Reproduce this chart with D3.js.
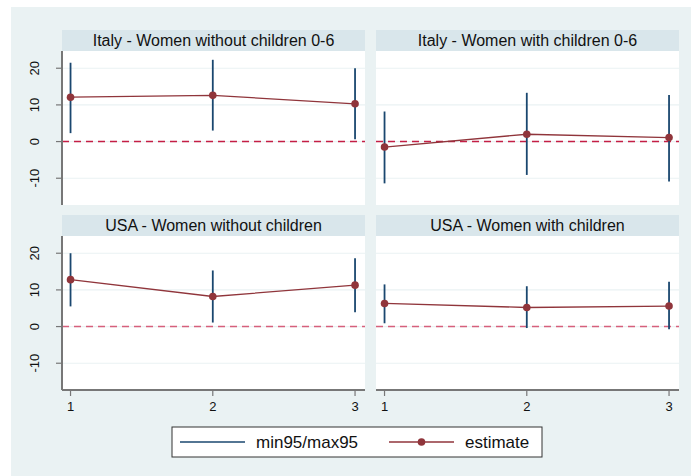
<!DOCTYPE html>
<html>
<head>
<meta charset="utf-8">
<script src="https://cdn.jsdelivr.net/npm/d3@7.9.0/dist/d3.min.js"></script>
<style>
  body { margin: 0; background: #fff; }
  svg { display: block; font-family: "Liberation Sans", Arial, sans-serif; }
</style>
</head>
<body>
<svg width="691" height="476"></svg>
<script>
// values
const panelTitles = [
  'Italy - Women without children 0-6',
  'Italy - Women with children 0-6',
  'USA - Women without children',
  'USA - Women with children'
];
const xValues = [1, 2, 3];
const estimate = [
  [12.1, 12.6, 10.3],
  [-1.5, 2.0, 1.1],
  [12.8, 8.2, 11.3],
  [6.3, 5.2, 5.6]
];
const min95 = [
  [2.3, 3.0, 0.6],
  [-11.4, -9.1, -10.9],
  [5.5, 1.1, 3.9],
  [0.9, -0.4, -0.7]
];
const max95 = [
  [21.5, 22.3, 20.0],
  [8.2, 13.3, 12.7],
  [20.0, 15.3, 18.6],
  [11.5, 11.0, 12.2]
];
const yTicks = [-10, 0, 10, 20];
const xTicks = [1, 2, 3];
const legendLabels = ['min95/max95', 'estimate'];

const svg = d3.select('svg');
const navy = '#1a476f', maroon = '#90353b';

svg.append('rect').attr('x', 11).attr('y', 7).attr('width', 680).attr('height', 469).attr('fill', '#eaf2f3');

const plotW = 303, plotH = 154, stripH = 21;
const colX = [62, 376];
const rowY = [30, 215];
const refColor = ['#c41e45', '#d6607c'];

let x = d3.scaleLinear().domain([0.94, 3.07]).range([0, plotW]);
let y = d3.scaleLinear().domain([-17.3, 24.7]).range([plotH, 0]);

panelTitles.forEach((title, i) => {
  let col = i % 2, row = Math.floor(i / 2);
  let g = svg.append('g').attr('transform', `translate(${colX[col]},${rowY[row]})`);

  // title strip
  g.append('rect').attr('width', plotW).attr('height', stripH).attr('fill', '#d9e6eb');
  g.append('text').attr('x', plotW / 2).attr('y', 16).attr('text-anchor', 'middle')
    .attr('font-size', 16).attr('fill', '#111').text(title);

  let p = g.append('g').attr('transform', `translate(0,${stripH})`);
  p.append('rect').attr('width', plotW).attr('height', plotH).attr('fill', '#fff');

  // grid
  p.selectAll('line.grid').data(yTicks).join('line')
    .attr('x1', 0).attr('x2', plotW)
    .attr('y1', d => y(d)).attr('y2', d => y(d))
    .attr('stroke', '#eaf2f3').attr('stroke-width', 1.2);

  // zero reference line
  p.append('line').attr('x1', 0).attr('x2', plotW).attr('y1', y(0)).attr('y2', y(0))
    .attr('stroke', refColor[row]).attr('stroke-width', 1.4).attr('stroke-dasharray', '7,5');

  // confidence intervals
  p.selectAll('line.ci').data(xValues).join('line')
    .attr('x1', d => x(d)).attr('x2', d => x(d))
    .attr('y1', (d, j) => y(min95[i][j])).attr('y2', (d, j) => y(max95[i][j]))
    .attr('stroke', navy).attr('stroke-width', 1.8);

  // estimate line + markers
  let line = d3.line().x((d, j) => x(xValues[j])).y(d => y(d));
  p.append('path').attr('d', line(estimate[i])).attr('fill', 'none')
    .attr('stroke', maroon).attr('stroke-width', 1.3);
  p.selectAll('circle').data(estimate[i]).join('circle')
    .attr('cx', (d, j) => x(xValues[j])).attr('cy', d => y(d)).attr('r', 3.8)
    .attr('fill', maroon);

  // y axis on left column
  if (col === 0) {
    p.append('line').attr('x1', 0).attr('x2', 0).attr('y1', 0).attr('y2', plotH)
      .attr('stroke', '#777').attr('stroke-width', 2);
    p.selectAll('line.yt').data(yTicks).join('line')
      .attr('x1', -6).attr('x2', 0).attr('y1', d => y(d)).attr('y2', d => y(d))
      .attr('stroke', '#777').attr('stroke-width', 1.2);
    p.selectAll('text.yl').data(yTicks).join('text')
      .attr('transform', d => `translate(-23.5,${y(d)}) rotate(-90)`)
      .attr('text-anchor', 'middle').attr('font-size', 13).attr('fill', '#111')
      .text(d => d);
  }
  // x axis on bottom row
  if (row === 1) {
    p.append('line').attr('x1', 0).attr('x2', plotW).attr('y1', plotH).attr('y2', plotH)
      .attr('stroke', '#777').attr('stroke-width', 2);
    p.selectAll('line.xt').data(xTicks).join('line')
      .attr('x1', d => x(d)).attr('x2', d => x(d)).attr('y1', plotH).attr('y2', plotH + 6)
      .attr('stroke', '#777').attr('stroke-width', 1.2);
    p.selectAll('text.xl').data(xTicks).join('text')
      .attr('x', d => x(d)).attr('y', plotH + 21).attr('text-anchor', 'middle')
      .attr('font-size', 13).attr('fill', '#111').text(d => d);
  }
});

// legend
let lg = svg.append('g').attr('transform', 'translate(172,427)');
lg.append('rect').attr('width', 370).attr('height', 30).attr('fill', '#fff')
  .attr('stroke', '#333').attr('stroke-width', 1);
lg.append('line').attr('x1', 8).attr('x2', 73).attr('y1', 15).attr('y2', 15)
  .attr('stroke', navy).attr('stroke-width', 1.5);
lg.append('text').attr('x', 84).attr('y', 21).attr('font-size', 17).attr('fill', '#111').text(legendLabels[0]);
lg.append('line').attr('x1', 217).attr('x2', 282).attr('y1', 15).attr('y2', 15)
  .attr('stroke', maroon).attr('stroke-width', 1.5);
lg.append('circle').attr('cx', 249.5).attr('cy', 15).attr('r', 3.8).attr('fill', maroon);
lg.append('text').attr('x', 293).attr('y', 21).attr('font-size', 17).attr('fill', '#111').text(legendLabels[1]);
</script>
</body>
</html>
